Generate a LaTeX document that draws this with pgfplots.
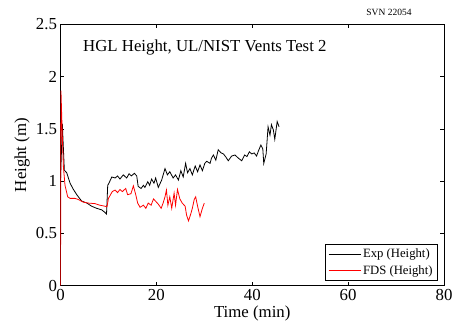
\documentclass[border=0pt]{standalone}
\usepackage{fontspec}
\setmainfont{Liberation Serif}
\usepackage{pgfplots}
\pgfplotsset{compat=1.18}
\begin{document}
\begin{tikzpicture}
\useasboundingbox (-60.5bp,-40.3bp) rectangle (398.5bp,285.7bp);
\begin{axis}[
  scale only axis,
  width=383.5bp, height=261.4bp,
  xmin=0, xmax=80, ymin=0, ymax=2.5,
  xtick={0,20,40,60,80},
  xticklabels={0,20,40,60,80},
  ytick={0,0.5,1,1.5,2,2.5},
  yticklabels={0,0.5,1,1.5,2,2.5},
  tick align=inside,
  major tick length=4bp,
  axis line style={line width=0.8bp},
  every tick/.style={black, line width=0.6bp},
  ticklabel style={font=\fontsize{16.8bp}{19bp}\selectfont\rmfamily},
  xlabel={Time (min)},
  ylabel={Height (m)},
  label style={font=\fontsize{16.8bp}{19bp}\selectfont},
  xlabel style={at={(axis description cs:0.5,-0.105)}, anchor=center},
  ylabel style={at={(axis description cs:-0.1,0.5)}, anchor=center},
  legend style={at={(axis description cs:0.9844,0.018)}, anchor=south east,
    font=\fontsize{12.7bp}{14bp}\selectfont, draw=black, line width=0.9bp,
    inner xsep=3bp, inner ysep=2.5bp, row sep=2.5bp},
  legend cell align=left,
  legend image code/.code={\draw[#1, line width=0.8bp] (0bp,0bp) -- (32bp,0bp);},
]
\addplot[black, line width=0.8bp] coordinates {
(0,1.0) (0.38,1.55) (0.8,1.105) (1.3,1.08) (2.0,0.98) (2.7,0.92) (3.4,0.87)
(4.4,0.81) (5.5,0.79) (6.5,0.76) (7.55,0.74) (8.6,0.725) (9.3,0.70) (9.6,0.685)
(9.85,0.96) (10.1,0.98) (10.7,1.04) (11.4,1.03) (11.9,1.05) (12.4,1.02) (13.1,1.06)
(13.8,1.03) (14.3,1.07) (14.8,1.05) (15.4,1.075) (15.9,1.05) (16.2,0.95) (16.8,0.93)
(17.3,0.96) (17.6,0.94) (18.2,0.995) (18.6,0.96) (19.0,1.02) (19.5,0.98) (19.85,1.03)
(20.4,0.94) (21.1,1.01) (21.8,1.12) (22.3,1.06) (22.8,1.09) (23.5,1.03) (24.0,1.06)
(24.6,1.01) (25.1,1.10) (25.6,1.04) (26.1,1.17) (26.5,1.08) (27.0,1.12) (27.5,1.06)
(28.1,1.145) (28.6,1.09) (29.1,1.155) (29.6,1.10) (30.1,1.17) (30.5,1.19) (31.2,1.17)
(31.5,1.22) (31.9,1.25) (32.4,1.20) (32.9,1.30) (33.5,1.27) (34.0,1.26) (34.5,1.23)
(35.0,1.195) (35.7,1.24) (36.4,1.25) (37.1,1.22) (37.8,1.195) (38.4,1.25) (38.9,1.235)
(39.4,1.28) (39.9,1.26) (40.4,1.27) (40.9,1.24) (41.3,1.29) (41.8,1.345) (42.2,1.31)
(42.4,1.17) (42.9,1.26) (43.3,1.52) (43.7,1.44) (44.0,1.54) (44.4,1.49) (44.7,1.40)
(45.2,1.57) (45.6,1.52)
};
\addlegendentry{Exp (Height)}
\addplot[red, line width=0.8bp] coordinates {
(0,0) (0.1,1.865) (0.38,1.43) (0.6,1.14) (0.94,0.96) (1.5,0.85) (2.0,0.835)
(3.0,0.835) (3.7,0.825) (4.7,0.80) (5.8,0.79) (7.2,0.785) (8.2,0.77) (9.3,0.76)
(9.7,0.755) (10.0,0.835) (10.8,0.90) (11.4,0.915) (11.9,0.89) (12.4,0.92) (12.9,0.90)
(13.6,0.93) (14.0,0.87) (14.7,0.88) (15.2,0.955) (15.7,0.87) (16.1,0.79) (16.6,0.75)
(17.3,0.77) (17.8,0.74) (18.3,0.79) (18.9,0.77) (19.4,0.83) (19.9,0.805) (20.4,0.78)
(21.0,0.74) (21.4,0.79) (21.8,0.85) (22.1,0.915) (22.4,0.77) (22.8,0.85) (23.2,0.74)
(23.7,0.885) (24.0,0.77) (24.4,0.92) (24.9,0.83) (25.4,0.79) (26.0,0.76) (26.3,0.675)
(26.7,0.62) (27.2,0.69) (27.5,0.74) (27.9,0.825) (28.2,0.85) (28.6,0.76) (29.1,0.66)
(29.6,0.74) (30.0,0.79)
};
\addlegendentry{FDS (Height)}
\node[anchor=west, font=\fontsize{16.8bp}{19bp}\selectfont] at (axis cs:4.0,2.28) {HGL Height, UL/NIST Vents Test 2};
\end{axis}
\node[font=\fontsize{9.5bp}{11bp}\selectfont] at (328.5bp,273.7bp) {SVN 22054};
\end{tikzpicture}
\end{document}
